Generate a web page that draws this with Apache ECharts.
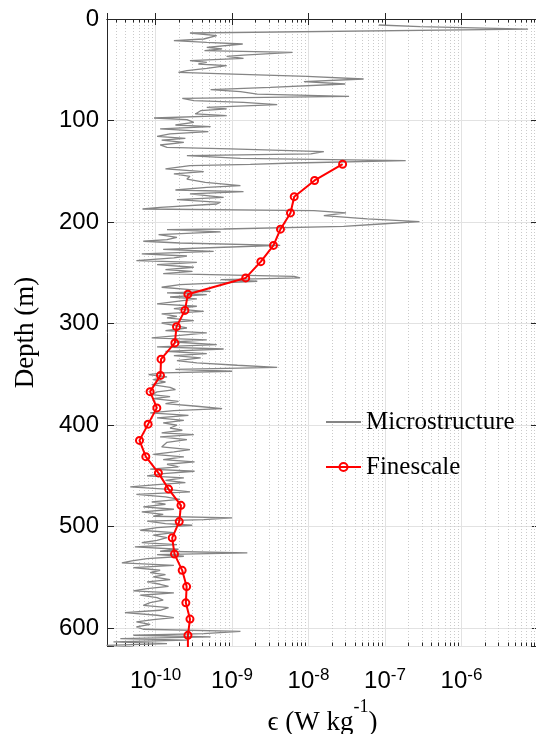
<!DOCTYPE html>
<html>
<head>
<meta charset="utf-8">
<script src="https://cdn.jsdelivr.net/npm/echarts@6/dist/echarts.min.js"></script>
<style>
  html, body { margin: 0; padding: 0; background: #ffffff; }
  #chart { width: 536px; height: 734px; }
</style>
</head>
<body>
<div id="chart"></div>
<script>
// Axis ranges
const depthMax = 617.5;          // m
const epsMin = 2.32e-11;         // W kg^-1
const epsMax = 1e-5;
const depthTicks = [0, 100, 200, 300, 400, 500, 600];
const epsDecades = [-10, -9, -8, -7, -6];

// Finescale estimate: depth (m) and dissipation rate (W kg^-1)
const fineDepth = [143, 159, 175, 191, 207, 223, 239, 255, 271, 287, 303, 319, 335, 351, 367,
                   383, 399, 415, 431, 447, 463, 479, 495, 511, 527, 543, 559, 575, 591, 607, 623];
const fineEps = [2.79e-8, 1.20e-8, 6.50e-9, 5.81e-9, 4.30e-9, 3.48e-9, 2.38e-9, 1.51e-9,
                 2.65e-10, 2.42e-10, 1.88e-10, 1.79e-10, 1.18e-10, 1.16e-10, 8.49e-11, 1.04e-10,
                 8.0e-11, 6.17e-11, 7.46e-11, 1.09e-10, 1.48e-10, 2.15e-10, 2.04e-10, 1.65e-10,
                 1.77e-10, 2.23e-10, 2.55e-10, 2.49e-10, 2.82e-10, 2.65e-10, 2.65e-10];

// Microstructure profile: [depth (m), log10 epsilon]
const microUpper = [
  [5.9,-7.08],[7.5,-6.54],[10.0,-5.13],[13.8,-9.55],[16.4,-9.20],[19.7,-9.37],[21.3,-9.76],[23.0,-9.33],
  [24.6,-8.86],[27.9,-9.33],[29.5,-9.13],[31.2,-9.36],[32.8,-8.21],[35.5,-8.85],[36.8,-9.07],[38.7,-8.85],
  [41.0,-9.55],[42.7,-9.33],[44.3,-9.44],[46.0,-9.07],[48.6,-9.33],[50.9,-9.59],[52.5,-9.70],[54.2,-8.98],
  [56.5,-8.02],[59.1,-7.28],[61.7,-8.06],[64.0,-7.52],[67.3,-8.50],[69.6,-9.28],[71.6,-8.89],[73.9,-8.67],
  [76.2,-7.47],[78.1,-9.65],[80.4,-9.50],[82.1,-8.85],[84.4,-8.41],[87.0,-9.33],[88.6,-9.07],[90.3,-9.41],
  [93.5,-9.48],[95.2,-9.07],[97.5,-10.02],[99.1,-9.59],[101.8,-9.50],[104.4,-9.74],[106.0,-9.28],[108.3,-9.94],
  [110.9,-9.31],[113.2,-9.81],[115.5,-9.98],[117.5,-9.61],[119.2,-9.92],[121.5,-9.63],[124.1,-9.94],[126.4,-9.85],
  [128.0,-9.02],[130.6,-7.80],[132.9,-7.97],[134.6,-9.59],[137.2,-8.89],[139.5,-6.73],[141.8,-8.19],[143.1,-8.76],
  [144.4,-9.55],[147.7,-9.87],[150.3,-9.37],[152.6,-9.76],[154.9,-9.55],[157.6,-9.59],[160.8,-9.35],[164.1,-8.89],
  [165.8,-9.33],[168.4,-9.74],[170.0,-8.85],[172.3,-9.55],[175.6,-9.11],[177.9,-9.72],[180.5,-9.15],[182.2,-9.20],
  [185.5,-9.94],[187.1,-10.17],[188.7,-7.93],[191.0,-7.51],[193.7,-7.80],[196.9,-7.23],[199.6,-6.55],[201.9,-7.06],
  [204.2,-7.54],[206.8,-9.11]
];
const microMiddle = [
  [207.4,-9.85],[209.7,-9.15],[212.4,-9.96],[215.0,-9.72],[217.3,-9.85],[218.9,-10.16],[220.6,-9.68],[222.9,-8.37],
  [224.8,-9.11],[226.8,-9.90],[228.8,-9.24],[231.4,-10.18],[233.4,-9.59],[235.3,-9.76],[238.0,-10.25],[239.6,-9.46],
  [241.9,-9.98],[244.5,-9.50],[246.8,-9.87],[248.5,-9.52],[250.8,-9.90],[253.4,-8.19],[255.0,-8.11],[256.7,-9.15],
  [258.3,-8.67],[261.6,-9.68],[264.2,-9.92],[266.5,-9.55],[268.2,-9.28],[269.8,-9.85],[271.5,-9.33],[273.8,-9.81],
  [275.7,-9.46],[278.0,-9.72],[280.6,-9.98],[282.9,-9.46],[285.2,-9.76],[287.9,-9.37],[290.5,-9.92],[292.8,-9.72],
  [294.4,-9.85],[297.1,-9.50],[299.4,-9.92],[301.7,-9.76],[304.3,-9.59],[306.9,-9.87],[309.2,-9.33],[311.5,-9.68],
  [314.1,-10.05],[316.1,-9.33],[318.1,-9.76],[320.7,-9.20],[323.0,-9.98],[325.0,-9.11],[327.3,-9.87],[329.5,-9.33],
  [331.5,-9.76],[333.8,-9.41],[336.4,-9.72],[338.7,-9.46],[341.0,-8.93],[343.0,-8.41],[345.0,-9.74],[346.9,-9.00],
  [348.6,-9.90],[350.2,-10.09],[352.5,-9.85],[355.2,-10.03],[357.5,-9.87],[360.1,-10.05],[362.7,-9.81],[365.0,-9.74],
  [367.3,-9.98],[369.9,-10.05],[371.9,-9.81],[373.9,-10.03],[376.5,-9.70],[378.8,-9.87],[381.4,-9.46],[383.7,-9.13],
  [385.7,-9.76],[388.0,-10.07],[390.3,-9.57],[392.9,-9.98],[395.2,-9.63],[397.8,-9.90],[400.1,-9.72],[402.8,-9.81],
  [405.0,-9.65],[407.7,-9.92],[409.3,-9.50],[411.6,-9.94],[414.2,-9.59],[416.9,-9.85]
];
const microLower = [
  [418.8,-9.83],[421.4,-9.92],[424.1,-9.55],[426.4,-9.76],[428.7,-10.03],[431.3,-9.63],[433.9,-9.90],[436.2,-9.49],
  [438.5,-9.85],[441.1,-9.70],[443.4,-10.07],[445.4,-9.49],[447.7,-9.90],[450.0,-10.11],[452.0,-9.63],[454.3,-9.87],
  [456.6,-9.61],[458.5,-9.98],[460.8,-10.33],[463.1,-9.87],[465.8,-9.55],[468.1,-10.25],[470.7,-9.87],[473.0,-9.68],
  [475.6,-10.05],[477.9,-9.87],[480.5,-10.16],[482.8,-9.76],[485.5,-10.18],[487.8,-9.90],[489.7,-10.03],[491.4,-9.00],
  [493.0,-9.37],[494.6,-10.11],[496.9,-9.87],[498.6,-9.52],[500.9,-9.98],[503.5,-10.20],[505.8,-9.76],[508.4,-10.03],
  [510.7,-9.85],[513.4,-9.98],[515.7,-10.18],[517.6,-9.72],[519.9,-10.27],[522.2,-9.70],[524.2,-9.94],[525.8,-8.80],
  [527.5,-9.98],[529.1,-9.63],[531.4,-10.11],[533.7,-10.31],[535.7,-10.44],[538.0,-9.76],[540.3,-10.29],[542.9,-9.94],
  [545.2,-10.07],[547.2,-9.87],[549.5,-10.03],[552.1,-9.81],[554.4,-10.11],[556.7,-9.94],[558.7,-9.83],[560.9,-10.11],
  [563.2,-10.29],[565.2,-9.76],[567.5,-10.20],[569.8,-9.98],[572.4,-9.90],[574.7,-10.07],[577.4,-10.16],[579.7,-9.83],
  [582.3,-9.94],[584.6,-10.40],[587.2,-9.98],[589.5,-9.76],[591.5,-10.03],[593.8,-10.25],[596.1,-10.07],[598.7,-10.25],
  [601.0,-10.16],[603.0,-8.89],[605.3,-9.37],[606.9,-10.29],[608.6,-9.28],[610.2,-10.46],[611.8,-9.59],[613.5,-10.55],
  [615.1,-9.85],[616.8,-10.64],[618.4,-10.29]
];

// Build series data
const microData = microUpper.concat(microMiddle, microLower).map(p => [Math.pow(10, p[1]), p[0]]);
const fineData = fineDepth.map((d, i) => [fineEps[i], d]);

// Minor log ticks (2..9 x 10^n) inside the x range
const minorTickValues = [];
for (let e = -11; e <= -6; e++) {
  for (let m = 2; m <= 9; m++) {
    const v = m * Math.pow(10, e);
    if (v > epsMin && v < epsMax) minorTickValues.push([v, 0]);
  }
}

const axisColor = '#262626';
const gridColor = '#e2e2e2';
const sansFont = '"Liberation Sans", Arial, sans-serif';
const serifFont = '"Liberation Serif", "Times New Roman", serif';

function decadeLabel(v) {
  const e = Math.log10(v);
  const r = Math.round(e);
  if (Math.abs(e - r) > 1e-6 || epsDecades.indexOf(r) < 0) return '';
  return '{b|10}{s|' + r + '}';
}

const chart = echarts.init(document.getElementById('chart'), null, { renderer: 'canvas' });

chart.setOption({
  animation: false,
  backgroundColor: '#ffffff',
  grid: {
    left: 107, right: -2, top: 19, bottom: 88,
    containLabel: false,
    outerBoundsMode: 'none'
  },
  legend: {
    data: [
      { name: 'Microstructure', itemStyle: { opacity: 0 } },
      { name: 'Finescale' }
    ],
    orient: 'vertical',
    left: 320,
    top: 404,
    itemWidth: 35,
    itemHeight: 10,
    itemGap: 19,
    textStyle: { fontFamily: serifFont, fontSize: 25, color: '#000', lineHeight: 26 }
  },
  xAxis: [
    {
      type: 'log',
      logBase: 10,
      min: epsMin,
      max: epsMax,
      position: 'bottom',
      axisLine: { show: true, lineStyle: { color: axisColor, width: 1 } },
      axisTick: { show: true, inside: true, length: 6, lineStyle: { color: axisColor } },
      minorTick: { show: false },
      splitLine: { show: true, lineStyle: { color: gridColor, width: 1 } },
      axisLabel: {
        margin: 21,
        formatter: decadeLabel,
        rich: {
          b: { fontFamily: sansFont, fontSize: 24, color: '#000', lineHeight: 26, verticalAlign: 'bottom' },
          s: { fontFamily: sansFont, fontSize: 17, color: '#000', lineHeight: 16, verticalAlign: 'top' }
        }
      },
      name: '{t|ϵ (W kg}{s|-1}{t|)}',
      nameLocation: 'middle',
      nameGap: 52,
      nameTextStyle: {
        rich: {
          t: { fontFamily: serifFont, fontSize: 27, color: '#000', lineHeight: 38, verticalAlign: 'bottom' },
          s: { fontFamily: serifFont, fontSize: 18, color: '#000', lineHeight: 18, verticalAlign: 'top' }
        }
      }
    },
    {
      type: 'log',
      logBase: 10,
      min: epsMin,
      max: epsMax,
      position: 'top',
      axisLine: { show: true, lineStyle: { color: axisColor, width: 1 } },
      axisTick: { show: true, inside: true, length: 6, lineStyle: { color: axisColor } },
      axisLabel: { show: false },
      splitLine: { show: false }
    }
  ],
  yAxis: [
    {
      type: 'value',
      inverse: true,
      min: 0,
      max: depthMax,
      interval: 100,
      position: 'left',
      axisLine: { show: true, lineStyle: { color: axisColor, width: 1 } },
      axisTick: { show: true, inside: true, length: 7, lineStyle: { color: axisColor } },
      splitLine: { show: true, lineStyle: { color: gridColor, width: 1 } },
      axisLabel: {
        margin: 8,
        fontFamily: sansFont,
        fontSize: 24,
        color: '#000',
        formatter: v => (depthTicks.indexOf(v) >= 0 ? String(v) : '')
      },
      name: 'Depth (m)',
      nameLocation: 'middle',
      nameGap: 68,
      nameTextStyle: { fontFamily: serifFont, fontSize: 27, color: '#000' }
    },
    {
      type: 'value',
      inverse: true,
      min: 0,
      max: depthMax,
      interval: 100,
      position: 'right',
      axisLine: { show: true, lineStyle: { color: axisColor, width: 1 } },
      axisTick: { show: true, inside: true, length: 7, lineStyle: { color: axisColor } },
      axisLabel: { show: false },
      splitLine: { show: false }
    }
  ],
  series: [
    {
      // dotted minor grid lines and minor ticks at 2..9 x 10^n
      name: 'minor',
      type: 'custom',
      xAxisIndex: 0,
      yAxisIndex: 0,
      silent: true,
      z: 1,
      data: minorTickValues,
      encode: { x: 0, y: 1 },
      renderItem: function (params, api) {
        const pt = api.coord([api.value(0), 0]);
        const x = Math.round(pt[0]) + 0.5;
        const cs = params.coordSys;
        const top = cs.y;
        const bot = cs.y + cs.height;
        return {
          type: 'group',
          children: [
            { type: 'line', shape: { x1: x, y1: top, x2: x, y2: bot },
              style: { stroke: '#cacaca', lineWidth: 1, lineDash: [1, 2] } },
            { type: 'line', shape: { x1: x, y1: top, x2: x, y2: top + 3.5 },
              style: { stroke: axisColor, lineWidth: 1 } },
            { type: 'line', shape: { x1: x, y1: bot, x2: x, y2: bot - 3.5 },
              style: { stroke: axisColor, lineWidth: 1 } }
          ]
        };
      }
    },
    {
      name: 'Microstructure',
      type: 'line',
      xAxisIndex: 0,
      yAxisIndex: 0,
      data: microData,
      symbol: 'none',
      showSymbol: false,
      clip: true,
      z: 3,
      lineStyle: { color: '#858585', width: 1.3 },
      itemStyle: { color: '#858585' },
      emphasis: { disabled: true }
    },
    {
      name: 'Finescale',
      type: 'line',
      xAxisIndex: 0,
      yAxisIndex: 0,
      data: fineData,
      symbol: 'circle',
      symbolSize: 7,
      showSymbol: true,
      clip: true,
      z: 4,
      lineStyle: { color: '#ff0000', width: 2 },
      itemStyle: { color: 'rgba(255,255,255,0)', borderColor: '#ff0000', borderWidth: 2 },
      emphasis: { disabled: true }
    }
  ]
});
</script>
</body>
</html>
